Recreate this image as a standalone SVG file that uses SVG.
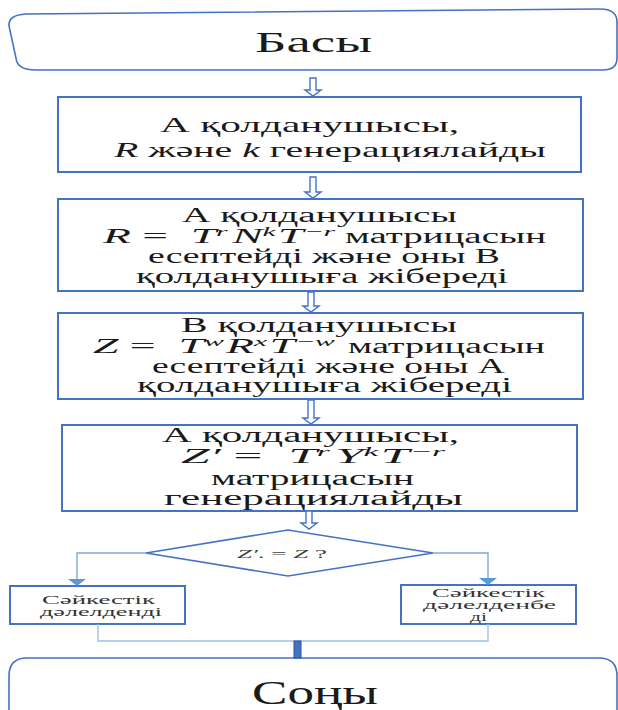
<svg xmlns="http://www.w3.org/2000/svg" width="618" height="710" viewBox="0 0 618 710">
<style>
text{font-family:"Liberation Serif","Times New Roman","DejaVu Serif",serif;fill:#1a1a1a}
.box{fill:#fff;stroke:#4472C4;stroke-width:2}
.term{fill:#fff;stroke:#4472C4;stroke-width:1.6}
.harrow{fill:#fff;stroke:#4472C4;stroke-width:1.4}
.conn{fill:none;stroke:#7EA9DC;stroke-width:1.4}
.ah{fill:#5B9BD5}
.t22{font-size:22px}
.t21{font-size:20px}
.t20{font-size:20px}
.small{font-size:12px;fill:#333}
.i{font-style:italic}
.sup{font-style:italic;font-size:13px}
</style>
<g id="start">
<path class="term" d="M26 14 L600 9 Q617 9 617 22 L617 58 Q617 70 603 70 L36 70 Q17 70 16 58 L9 26 Q8 15 26 14 Z"/>
<text x="255" y="52" font-size="30" textLength="117" lengthAdjust="spacingAndGlyphs">Басы</text>
</g>
<g id="box1">
<rect class="box" x="58" y="97" width="523" height="75"/>
<text class="t22" x="160" y="132" textLength="299" lengthAdjust="spacingAndGlyphs">А қолданушысы,</text>
<text class="t22" x="114" y="157" textLength="432" lengthAdjust="spacingAndGlyphs"><tspan class="i">R</tspan> және <tspan class="i">k</tspan> генерациялайды</text>
</g>
<g id="box2">
<rect class="box" x="58" y="199" width="525" height="92"/>
<text class="t21" x="182" y="222" textLength="275" lengthAdjust="spacingAndGlyphs">А қолданушысы</text>
<text class="t21" x="103" y="243" textLength="232" lengthAdjust="spacingAndGlyphs"><tspan class="i">R</tspan> = &#160;<tspan class="i">T</tspan><tspan class="sup" dy="-7">r</tspan><tspan class="i" dy="7" dx="2">N</tspan><tspan class="sup" dy="-7">k</tspan><tspan class="i" dy="7" dx="1">T</tspan><tspan class="sup" dy="-7">−r</tspan></text>
<text class="t21" x="345" y="243" textLength="201" lengthAdjust="spacingAndGlyphs">матрицасын</text>
<text class="t21" x="148" y="263" textLength="352" lengthAdjust="spacingAndGlyphs">есептейді және оны В</text>
<text class="t21" x="136" y="283" textLength="372" lengthAdjust="spacingAndGlyphs">қолданушыға жібереді</text>
</g>
<g id="box3">
<rect class="box" x="58" y="313" width="525" height="86"/>
<text class="t21" x="181" y="332" textLength="276" lengthAdjust="spacingAndGlyphs">В қолданушысы</text>
<text class="t21" x="93" y="353" textLength="242" lengthAdjust="spacingAndGlyphs"><tspan class="i">Z</tspan> = &#160;<tspan class="i">T</tspan><tspan class="sup" dy="-7">w</tspan><tspan class="i" dy="7" dx="1">R</tspan><tspan class="sup" dy="-7">x</tspan><tspan class="i" dy="7" dx="1">T</tspan><tspan class="sup" dy="-7">−w</tspan></text>
<text class="t21" x="348" y="353" textLength="197" lengthAdjust="spacingAndGlyphs">матрицасын</text>
<text class="t21" x="152" y="373" textLength="353" lengthAdjust="spacingAndGlyphs">есептейді және оны А</text>
<text class="t21" x="137" y="392" textLength="375" lengthAdjust="spacingAndGlyphs">қолданушыға жібереді</text>
</g>
<g id="box4">
<rect class="box" x="62" y="425" width="515" height="86"/>
<text class="t20" x="162" y="442" textLength="297" lengthAdjust="spacingAndGlyphs">А қолданушысы,</text>
<text class="t20" x="181" y="463" textLength="264" lengthAdjust="spacingAndGlyphs"><tspan class="i">Z′</tspan> = &#160;<tspan class="i">T</tspan><tspan class="sup" dy="-7">r</tspan><tspan class="i" dy="7" dx="2">Y</tspan><tspan class="sup" dy="-7">k</tspan><tspan class="i" dy="7" dx="1">T</tspan><tspan class="sup" dy="-7">−r</tspan></text>
<text class="t20" x="211" y="485" textLength="203" lengthAdjust="spacingAndGlyphs">матрицасын</text>
<text class="t20" x="164" y="505" textLength="299" lengthAdjust="spacingAndGlyphs">генерациялайды</text>
</g>
<g id="decision">
<polygon fill="#fff" stroke="#4472C4" stroke-width="1.6" points="146,553 288,530 433,553 288,576"/>
<text x="237" y="558" font-size="13" textLength="90" lengthAdjust="spacingAndGlyphs" style="fill:#404040"><tspan class="i">Z′</tspan>. = <tspan class="i">Z</tspan> ?</text>
</g>
<g id="yes">
<rect class="box" x="10" y="586" width="175" height="38"/>
<text class="small" x="42" y="604" textLength="113" lengthAdjust="spacingAndGlyphs">Сәйкестік</text>
<text class="small" x="40" y="616" textLength="122" lengthAdjust="spacingAndGlyphs">дәлелденді</text>
</g>
<g id="no">
<rect class="box" x="401" y="585" width="175" height="39"/>
<text class="small" x="432" y="597" textLength="113" lengthAdjust="spacingAndGlyphs">Сәйкестік</text>
<text class="small" x="423" y="609" textLength="133" lengthAdjust="spacingAndGlyphs">дәлелденбе</text>
<text class="small" x="470" y="621" textLength="17" lengthAdjust="spacingAndGlyphs">ді</text>
</g>
<g id="end">
<path class="term" d="M9 720 L9 676 Q9 658 27 658 L599 658 Q617 658 617 676 L617 720"/>
<text x="252" y="704" font-size="34" textLength="126" lengthAdjust="spacingAndGlyphs">Соңы</text>
</g>
<g id="connectors">
<path class="harrow" d="M310 78 L316 78 L316 90 L321 90 L313 96 L305 90 L310 90 Z"/>
<path class="harrow" d="M310 177 L316 177 L316 192 L321 192 L313 198 L305 192 L310 192 Z"/>
<path class="harrow" d="M308 292 L314 292 L314 306 L319 306 L311 312 L303 306 L308 306 Z"/>
<path class="harrow" d="M308 400 L314 400 L314 418 L319 418 L311 424 L303 418 L308 418 Z"/>
<path class="harrow" d="M306 511 L312 511 L312 523 L317 523 L309 529 L301 523 L306 523 Z"/>
<polyline class="conn" points="146,553 77,553 77,580"/>
<polygon class="ah" points="68,579 86,579 77,586"/>
<polyline class="conn" points="433,553 488,553 488,579"/>
<polygon class="ah" points="479,578 497,578 488,585"/>
<polyline class="conn" points="98,624 98,641 488,641 488,624" style="stroke:#9DC3E6"/>
<rect x="294" y="641" width="7" height="17" fill="#4472C4" stroke="#2F5597" stroke-width="1"/>
</g>
</svg>
